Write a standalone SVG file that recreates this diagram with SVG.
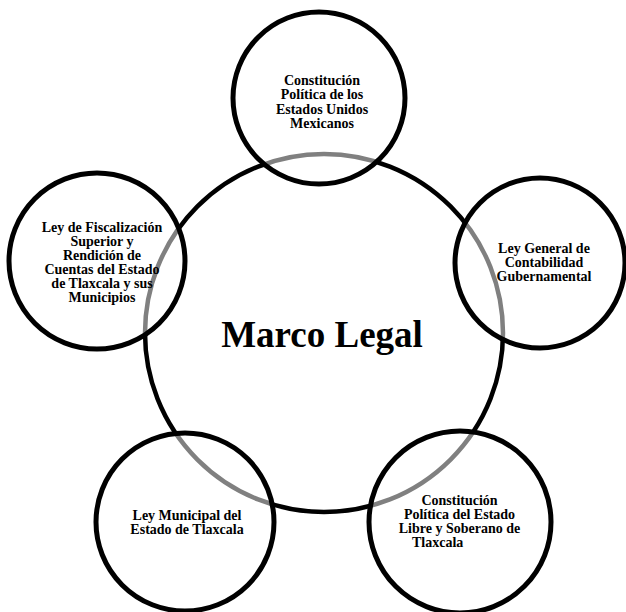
<svg xmlns="http://www.w3.org/2000/svg" width="626" height="612" viewBox="0 0 626 612">
<style>
.big{fill:#fff;stroke:#000;stroke-width:4.5}
.sm{fill:#fff;fill-opacity:0.5;stroke:#000;stroke-width:5}
.t{font-family:"Liberation Serif","Times New Roman",serif;font-weight:bold;font-size:14px;fill:#000;text-anchor:middle}
.m{font-family:"Liberation Serif","Times New Roman",serif;font-weight:bold;font-size:37px;fill:#000;text-anchor:middle}
</style>
<rect width="626" height="612" fill="#fff"/>
<g id="connectors"></g>
<g id="marco-legal">
<circle class="big" cx="324" cy="333" r="179"/>
</g>
<g id="n-constitucion-mex">
<circle class="sm" cx="319" cy="98" r="86"/>
</g>
<g id="n-ley-contabilidad">
<circle class="sm" cx="540" cy="263" r="85"/>
</g>
<g id="n-constitucion-tlax">
<circle class="sm" cx="460" cy="522" r="91"/>
</g>
<g id="n-ley-municipal">
<circle class="sm" cx="185" cy="522" r="89"/>
</g>
<g id="n-ley-fiscalizacion">
<circle class="sm" cx="97" cy="261" r="88"/>
</g>
<g id="labels">
<text class="m" x="322" y="347">Marco Legal</text>
<text class="t" x="322" y="85">Constitución</text>
<text class="t" x="322" y="99.3">Política de los</text>
<text class="t" x="322" y="113.6">Estados Unidos</text>
<text class="t" x="322" y="128">Mexicanos</text>
<text class="t" x="544" y="253">Ley General de</text>
<text class="t" x="544" y="267">Contabilidad</text>
<text class="t" x="544" y="281">Gubernamental</text>
<text class="t" x="459.5" y="505">Constitución</text>
<text class="t" x="459.5" y="519">Política del Estado</text>
<text class="t" x="459.5" y="533">Libre y Soberano de</text>
<text class="t" x="412" y="547" style="text-anchor:start">Tlaxcala</text>
<text class="t" x="187" y="520">Ley Municipal del</text>
<text class="t" x="187" y="534">Estado de Tlaxcala</text>
<text class="t" x="102" y="232">Ley de Fiscalización</text>
<text class="t" x="102" y="246">Superior y</text>
<text class="t" x="102" y="260">Rendición de</text>
<text class="t" x="102" y="274">Cuentas del Estado</text>
<text class="t" x="102" y="288">de Tlaxcala y sus</text>
<text class="t" x="102" y="302">Municipios</text>
</g>
</svg>
